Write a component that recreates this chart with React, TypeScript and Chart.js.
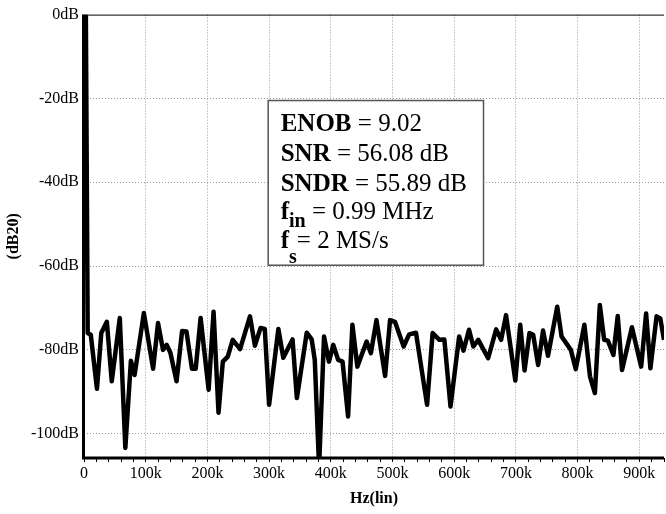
import React, { useEffect, useRef } from "react";
import { Chart, registerables } from "chart.js";

Chart.register(...registerables);

// Spectrum samples: frequency (kHz) and magnitude (dB)
const freqKHz = [
  3, 6, 11, 21, 28, 37, 45, 58, 67, 76, 82, 97, 112, 120, 128, 134, 140, 150,
  159, 166, 175, 181, 189, 202, 210, 218, 225, 233, 241, 253, 269, 277, 286,
  293, 300, 315, 323, 338, 345, 361, 369, 374, 381, 389, 397, 404, 412, 419,
  428, 435, 443, 458, 465, 474, 488, 496, 504, 518, 527, 538, 556, 565, 576,
  584, 594, 608, 615, 624, 631, 639, 655, 668, 676, 684, 699, 707, 714, 722,
  728, 736, 744, 752, 767, 774, 789, 797, 811, 820, 828, 836, 843, 849, 858,
  865, 872, 888, 903, 911, 918, 928, 934, 940,
];
const magDB = [
  0, -76, -76.4, -89.3, -76, -73.3, -87.5, -72.4, -103.4, -82.6, -86, -71.2,
  -84.5, -73.6, -80, -78.8, -80.7, -87.5, -75.5, -75.6, -84.5, -84.5, -72.4,
  -89.5, -70.9, -95, -82.8, -81.6, -77.6, -79.8, -72, -79, -74.8, -75, -93.1,
  -75, -81.9, -77.5, -91.5, -75.9, -77.5, -82.4, -108, -76.8, -82.8, -78.8,
  -82.4, -82.8, -95.9, -74, -84, -78, -80.8, -72.9, -86.2, -72.9, -73.3,
  -79.2, -76.3, -75.9, -93.1, -76, -77.6, -77.5, -93.5, -76.8, -80.2, -75.2,
  -79.2, -77.6, -82, -75.1, -77.6, -71.7, -87.3, -74, -84.9, -76, -76.4,
  -83.6, -75.4, -81.4, -69.7, -76.8, -80, -84.6, -74, -86.3, -90.3, -69.3,
  -77.6, -77.8, -81.2, -71.9, -84.8, -74.6, -84, -71.3, -84.4, -72, -72.5,
  -77.6,
];

// Axis ticks
const yTickValues = [0, -20, -40, -60, -80, -100];
const xMajorKHz = [0, 100, 200, 300, 400, 500, 600, 700, 800, 900];
const xMinorStepKHz = 20;
const xMaxKHz = 940;
const yMin = -105.8;
const yMax = 0;

// Annotation text (bold name, bold subscript, regular rest)
const noteBold = ["ENOB", "SNR", "SNDR", "f", "f"];
const noteSub = ["", "", "", "in", "s"];
const noteRest = [" = 9.02", " = 56.08 dB", " = 55.89 dB", " = 0.99 MHz", "= 2 MS/s"];

const SERIF = '"Liberation Serif", "Times New Roman", serif';

const framePlugin = {
  id: "frameAndNote",
  afterDatasetsDraw(chart: any) {
    const { ctx, chartArea: a } = chart;
    const xs = chart.scales.x;
    const ys = chart.scales.y;
    ctx.save();
    // top border
    ctx.strokeStyle = "#000";
    ctx.lineWidth = 1;
    ctx.beginPath();
    ctx.moveTo(a.left, a.top + 0.5);
    ctx.lineTo(a.right, a.top + 0.5);
    ctx.stroke();
    // thick left & bottom axes
    ctx.lineWidth = 3;
    ctx.beginPath();
    ctx.moveTo(a.left - 0.5, a.top);
    ctx.lineTo(a.left - 0.5, a.bottom);
    ctx.lineTo(a.right, a.bottom);
    ctx.stroke();

    // annotation box
    const bx1 = xs.getPixelForValue(298500);
    const bx2 = xs.getPixelForValue(647500);
    const by1 = ys.getPixelForValue(-20.5);
    const by2 = ys.getPixelForValue(-59.8);
    ctx.fillStyle = "#fff";
    ctx.fillRect(bx1, by1, bx2 - bx1, by2 - by1);
    ctx.strokeStyle = "#555";
    ctx.lineWidth = 1.5;
    ctx.strokeRect(bx1, by1, bx2 - bx1, by2 - by1);

    const baselines = [30, 60, 90, 118.5, 147];
    const subOffsets = [0, 0, 0, 8, 15];
    ctx.fillStyle = "#000";
    ctx.textBaseline = "alphabetic";
    ctx.textAlign = "left";
    for (let i = 0; i < noteBold.length; i++) {
      let x = bx1 + 12.5;
      const y = by1 + baselines[i];
      ctx.font = `bold 25px ${SERIF}`;
      ctx.fillText(noteBold[i], x, y);
      x += ctx.measureText(noteBold[i]).width;
      if (noteSub[i]) {
        ctx.font = `bold 20px ${SERIF}`;
        ctx.fillText(noteSub[i], x, y + subOffsets[i]);
        x += ctx.measureText(noteSub[i]).width;
      }
      ctx.font = `25px ${SERIF}`;
      ctx.fillText(noteRest[i], x, y);
    }
    ctx.restore();
  },
};

export default function App() {
  const ref = useRef<HTMLCanvasElement | null>(null);

  useEffect(() => {
    if (!ref.current) return;
    Chart.defaults.font.family = SERIF;
    Chart.defaults.color = "#000";
    const data = freqKHz.map((f, i) => ({ x: f * 1000, y: magDB[i] }));
    const chart = new Chart(ref.current, {
      type: "line",
      data: {
        datasets: [
          {
            data,
            borderColor: "#000",
            borderWidth: 4.5,
            pointRadius: 0,
            tension: 0,
            borderJoinStyle: "round",
            fill: false,
          },
        ],
      },
      options: {
        animation: false,
        responsive: false,
        devicePixelRatio: 1,
        layout: { padding: { top: 14, right: 0, left: 0, bottom: 0 } },
        plugins: { legend: { display: false }, tooltip: { enabled: false } },
        scales: {
          x: {
            type: "linear",
            min: 0,
            max: xMaxKHz * 1000,
            afterBuildTicks: (scale: any) => {
              const t = [];
              for (let v = 0; v <= xMaxKHz; v += xMinorStepKHz) t.push({ value: v * 1000 });
              scale.ticks = t;
            },
            afterFit: (scale: any) => {
              scale.height = 56;
            },
            ticks: {
              autoSkip: false,
              maxRotation: 0,
              minRotation: 0,
              padding: 2,
              font: { size: 16 },
              color: "#000",
              callback: (v: any) => {
                const k = Math.round(Number(v) / 1000);
                if (!xMajorKHz.includes(k)) return "";
                return k === 0 ? "0" : `${k}k`;
              },
            },
            grid: {
              color: (c: any) => {
                const k = c.tick ? Math.round(c.tick.value / 1000) : -1;
                return k > 0 && xMajorKHz.includes(k) ? "#999" : "rgba(0,0,0,0)";
              },
              tickColor: "#000",
              tickLength: 4,
              tickWidth: 1,
              lineWidth: 1,
            },
            border: { display: false, dash: [1, 2] },
            title: {
              display: true,
              text: "Hz(lin)",
              font: { size: 16, weight: "bold" },
              color: "#000",
              padding: { top: 0, bottom: 6 },
            },
          },
          y: {
            type: "linear",
            min: yMin,
            max: yMax,
            afterBuildTicks: (scale: any) => {
              scale.ticks = yTickValues.slice().reverse().map((v) => ({ value: v }));
            },
            afterFit: (scale: any) => {
              scale.width = 84;
            },
            ticks: {
              padding: 5,
              font: { size: 16 },
              color: "#000",
              callback: (v: any) => `${v}dB`,
            },
            grid: {
              color: (c: any) =>
                c.tick && c.tick.value !== 0 ? "#999" : "rgba(0,0,0,0)",
              drawTicks: false,
              lineWidth: 1,
            },
            border: { display: false, dash: [1, 2] },
            title: {
              display: true,
              text: "(dB20)",
              font: { size: 16, weight: "bold" },
              color: "#000",
              padding: { top: 4, bottom: 0 },
            },
          },
        },
      },
      plugins: [framePlugin],
    });
    return () => chart.destroy();
  }, []);

  return (
    <div style={{ position: "absolute", left: 0, top: 0, width: 666, height: 514, background: "#fff" }}>
      <canvas ref={ref} width={666} height={514} />
    </div>
  );
}
